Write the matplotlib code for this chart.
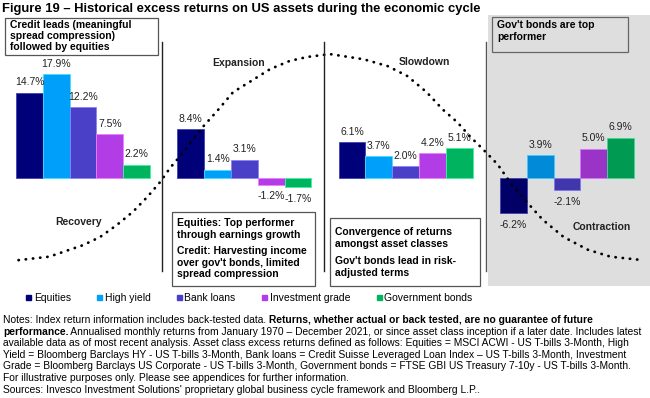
import numpy as np
import matplotlib
matplotlib.use('Agg')
import matplotlib.pyplot as plt
from matplotlib.patches import Rectangle
from matplotlib.lines import Line2D
from matplotlib.colors import to_rgb

plt.rcParams['font.family'] = ['Liberation Sans', 'DejaVu Sans']

# ---- data ----
phases = ['Recovery', 'Expansion', 'Slowdown', 'Contraction']
assets = ['Equities', 'High yield', 'Bank loans', 'Investment grade', 'Government bonds']
recovery = [14.7, 17.9, 12.2, 7.5, 2.2]
expansion = [8.4, 1.4, 3.1, -1.2, -1.7]
slowdown = [6.1, 3.7, 2.0, 4.2, 5.1]
contraction = [-6.2, 3.9, -2.1, 5.0, 6.9]
colors = ['#000078', '#00a0fa', '#4a40c8', '#b23ce6', '#00b35f']

# stylised business-cycle curve (in bar-axis units)
cycle_x = [-0.40, -0.21, 0.0, 0.105, 0.21, 0.31, 0.40, 0.48, 0.54, 0.61, 0.74, 0.83, 0.93,
           1.04, 1.16, 1.28, 1.39, 1.53, 1.74, 1.89, 2.01, 2.13, 2.23, 2.32, 2.40, 2.48,
           2.57, 2.65, 2.75, 2.85, 2.98, 3.13, 3.27, 3.47]
cycle_y = [-14.3, -13.7, -11.7, -10.3, -8.2, -5.9, -3.3, -0.7, 1.7, 4.0, 8.7, 11.5, 14.8,
           16.7, 18.8, 20.2, 20.9, 21.4, 20.5, 19.3, 17.6, 14.8, 11.8, 9.6, 7.1, 4.9,
           2.3, -0.9, -4.2, -7.3, -10.3, -12.5, -13.7, -14.3]

title = 'Figure 19 \u2013 Historical excess returns on US assets during the economic cycle'
# each notes line: (regular, bold, regular)
notes = [
    ('Notes: Index return information includes back-tested data. ',
     'Returns, whether actual or back tested, are no guarantee of future', ''),
    ('', 'performance.', ' Annualised monthly returns from January 1970 \u2013 December 2021, or since asset class inception if a later date. Includes latest'),
    ('available data as of most recent analysis. Asset class excess returns defined as follows: Equities = MSCI ACWI - US T-bills 3-Month, High', '', ''),
    ('Yield = Bloomberg Barclays HY - US T-bills 3-Month, Bank loans = Credit Suisse Leveraged Loan Index \u2013 US T-bills 3-Month, Investment', '', ''),
    ('Grade = Bloomberg Barclays US Corporate - US T-bills 3-Month, Government bonds = FTSE GBI US Treasury 7-10y - US T-bills 3-Month.', '', ''),
    ('For illustrative purposes only. Please see appendices for further information.', '', ''),
    ("Sources: Invesco Investment Solutions' proprietary global business cycle framework and Bloomberg L.P..", '', ''),
]

W, H = 650, 398
FS = 7.5
fig = plt.figure(figsize=(W / 100, H / 100), dpi=100)
fig.patch.set_facecolor('white')

def fx(x): return x / W
def fy(y): return 1 - y / H

def box(x0, y0, x1, y1, fc='white', ec='#555555', lw=0.9, z=1):
    fig.add_artist(Rectangle((fx(x0), fy(y1)), (x1 - x0) / W, (y1 - y0) / H,
                             transform=fig.transFigure, fc=fc, ec=ec, lw=lw, zorder=z))

def ftext(x, y, s, **kw):
    kw.setdefault('fontsize', FS)
    return fig.text(fx(x), fy(y), s, **kw)

# grey contraction background
GREY = '#dedede'
box(488, 15, 650, 286, fc=GREY, ec='none', lw=0, z=0)

ax = fig.add_axes([0, fy(286), 1, (286 - 15) / H])
ax.set_xlim(-0.515, 3.515)
ax.set_ylim(-18.78, 28.17)
ax.axis('off')
ax.patch.set_alpha(0)

w = 0.166
groups = [recovery, expansion, slowdown, contraction]
for i, vals in enumerate(groups):
    xs = i + (np.arange(len(vals)) - 2) * w
    if i == 3:  # bars sit under the grey shading
        cols = [tuple(c * 0.86 for c in to_rgb(col)) for col in colors]
    else:
        cols = colors
    edge = [tuple(min(1, c + 0.25) for c in to_rgb(col)) for col in cols]
    ax.bar(xs, vals, w, color=cols, edgecolor=edge, lw=0.6, zorder=2)
    for x, v in zip(xs, vals):
        up = v >= 0
        ax.annotate(f'{v:.1f}%', (x, v), xytext=(0, 4 if up else -5), textcoords='offset points',
                    ha='center', va='bottom' if up else 'top', fontsize=FS, color='#222222')

ax.plot(cycle_x, cycle_y, ls=(0, (0.1, 2.5)), lw=2.0, color='black',
        dash_capstyle='round', zorder=3)

# panel dividers
for xd, c in [(162, '#222222'), (324, '#222222'), (486, '#555555')]:
    fig.add_artist(Line2D([fx(xd), fx(xd)], [fy(42), fy(271)], transform=fig.transFigure,
                          color=c, lw=1.0))

# phase names
for (x, y), name in zip([(79, 222), (239, 63), (424, 62), (602, 227)], phases):
    ftext(x, y, name, ha='center', va='center', fontweight='bold', color='#222222')

# title
ftext(2, 9, title, ha='left', va='center', fontsize=9.4, fontweight='bold')

# callout boxes
box(5, 18, 158, 55)
ftext(10, 19.5, 'Credit leads (meaningful\nspread compression)\nfollowed by equities',
      ha='left', va='top', fontweight='bold', linespacing=1.15)
box(492, 17, 628, 52, fc=GREY, ec='#666666')
ftext(497, 20.5, "Gov't bonds are top\nperformer", ha='left', va='top',
      fontweight='bold', linespacing=1.15)
box(172, 212, 315, 286, z=2)
ftext(177, 218.5, 'Equities: Top performer\nthrough earnings growth', ha='left', va='top',
      fontweight='bold', linespacing=1.15, zorder=3)
ftext(177, 246.5, "Credit: Harvesting income\nover gov't bonds, limited\nspread compression",
      ha='left', va='top', fontweight='bold', linespacing=1.15, zorder=3)
box(330, 218, 480, 286, z=2)
ftext(335, 227.5, 'Convergence of returns\namongst asset classes', ha='left', va='top',
      fontweight='bold', linespacing=1.15, zorder=3)
ftext(335, 256.5, "Gov't bonds lead in risk-\nadjusted terms", ha='left', va='top',
      fontweight='bold', linespacing=1.15, zorder=3)

# legend
handles = [Line2D([], [], ls='none', marker='s', ms=3.6, mfc=c, mec=c) for c in colors]
fig.legend(handles, assets, loc='center', bbox_to_anchor=(fx(249), fy(298)), ncol=5,
           frameon=False, fontsize=FS, handlelength=0.5, handletextpad=0.25,
           columnspacing=2.5)

# notes, with bold runs chained after the regular text
NFS = 7.4
y = 320
for pre, bold, post in notes:
    t = ftext(3, y, pre, va='center', ha='left', fontsize=NFS)
    for seg, fw in [(bold, 'bold'), (post, 'normal')]:
        if seg:
            t = ax.annotate(seg, xy=(1, 0.5), xycoords=t, va='center', ha='left',
                            fontsize=NFS, fontweight=fw, annotation_clip=False)
    y += 11.6

fig.savefig('out.png', dpi=100, facecolor='white')
